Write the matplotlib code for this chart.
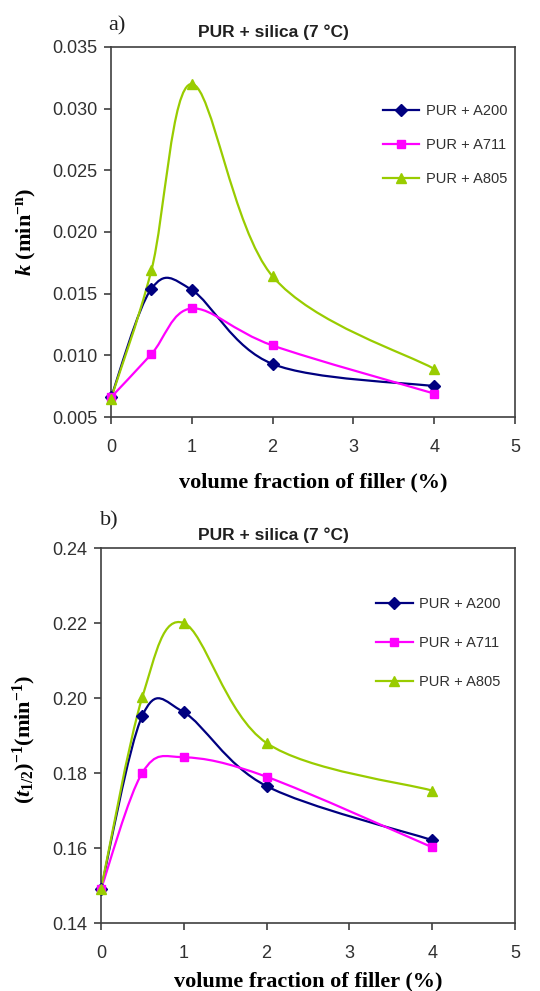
import numpy as np
import matplotlib
matplotlib.use('Agg')
import matplotlib.pyplot as plt
from matplotlib.path import Path
from matplotlib.patches import PathPatch
from matplotlib.lines import Line2D
from matplotlib.ticker import FormatStrFormatter, MultipleLocator

plt.rcParams['font.family'] = ['Liberation Sans', 'DejaVu Sans']
plt.rcParams['mathtext.fontset'] = 'custom'
plt.rcParams['mathtext.rm'] = 'Liberation Serif:bold'
plt.rcParams['mathtext.it'] = 'Liberation Serif:bold:italic'
plt.rcParams['mathtext.bf'] = 'Liberation Serif:bold'

# data
filler = [0, 0.5, 1, 2, 4]
labels = ['PUR + A200', 'PUR + A711', 'PUR + A805']

k_a200 = [0.0066, 0.0154, 0.0153, 0.0093, 0.0075]
k_a711 = [0.0066, 0.0101, 0.0138, 0.0108, 0.0069]
k_a805 = [0.0065, 0.0169, 0.0320, 0.0164, 0.0089]

t_a200 = [0.149, 0.1953, 0.1962, 0.1765, 0.1621]
t_a711 = [0.149, 0.1801, 0.1842, 0.1790, 0.1602]
t_a805 = [0.149, 0.2003, 0.2200, 0.1880, 0.1753]

colors = ['#000080', '#FF00FF', '#99CC00']
markers = ['D', 's', '^']
msizes = [6, 5.5, 7.5]


def smooth_path(x, y):
    # Excel-style smoothed line: Catmull-Rom as cubic Bezier segments
    pts = np.column_stack([x, y]).astype(float)
    n = len(pts)
    verts = [pts[0]]
    codes = [Path.MOVETO]
    for i in range(n - 1):
        p0 = pts[i - 1] if i > 0 else pts[i]
        p1 = pts[i]
        p2 = pts[i + 1]
        p3 = pts[i + 2] if i + 2 < n else pts[i + 1]
        verts += [p1 + (p2 - p0) / 6, p2 - (p3 - p1) / 6, p2]
        codes += [Path.CURVE4] * 3
    return Path(verts, codes)


def draw_panel(ax, series, ylim, ystep, yfmt, leg_xy, leg_space, xpad):
    for vals, c, m, ms in zip(series, colors, markers, msizes):
        ax.add_patch(PathPatch(smooth_path(filler, vals), fill=False,
                               edgecolor=c, lw=1.6, zorder=2))
        ax.plot(filler, vals, linestyle='none', marker=m, color=c,
                markersize=ms, zorder=3, clip_on=False)
    ax.set_xlim(0, 5)
    ax.set_ylim(*ylim)
    ax.xaxis.set_major_locator(MultipleLocator(1))
    ax.yaxis.set_major_locator(MultipleLocator(ystep))
    ax.yaxis.set_major_formatter(FormatStrFormatter(yfmt))
    ax.tick_params(direction='out', length=5, width=1.2, labelsize=13,
                   color='#404040', labelcolor='#303030')
    ax.tick_params(axis='x', pad=11)
    ax.tick_params(axis='y', pad=5)
    for s in ax.spines.values():
        s.set_color('#404040')
        s.set_linewidth(1.2)
    handles = [Line2D([], [], color=c, marker=m, markersize=ms, lw=1.6)
               for c, m, ms in zip(colors, markers, msizes)]
    leg = ax.legend(handles, labels, loc='upper left', bbox_to_anchor=leg_xy,
                    frameon=False, fontsize=10.5, labelspacing=leg_space,
                    handlelength=2.5, handletextpad=0.45, borderpad=0)
    for t in leg.get_texts():
        t.set_color('#303030')
    ax.set_xlabel('volume fraction of filler (%)', family='Liberation Serif',
                  fontweight='bold', fontsize=16, labelpad=xpad)


fig = plt.figure(figsize=(5.4, 9.91), dpi=100)

ax1 = fig.add_axes([0.2056, 0.5792, 0.748, 0.3734])
draw_panel(ax1, [k_a200, k_a711, k_a805], (0.005, 0.035), 0.005, '%.3f',
           (0.655, 0.866), 1.38, 12)
ax1.set_ylabel(r'$k\ \mathrm{(min^{-n})}$', fontsize=16)
ax1.yaxis.set_label_coords(-0.18, 0.5)

ax2 = fig.add_axes([0.187, 0.0686, 0.7667, 0.3784])
draw_panel(ax2, [t_a200, t_a711, t_a805], (0.14, 0.24), 0.02, '%.2f',
           (0.647, 0.888), 1.72, 7)
ax2.set_ylabel(r'$(t_{\mathrm{1/2}})^{\mathrm{-1}}\mathrm{(min^{-1})}$', fontsize=16)
ax2.yaxis.set_label_coords(-0.152, 0.49)

fig.text(273 / 540, 1 - 32 / 991, 'PUR + silica (7 °C)', fontsize=12.5,
         fontweight='bold', ha='center', va='center', color='#202020')
fig.text(273 / 540, 1 - 535 / 991, 'PUR + silica (7 °C)', fontsize=12.5,
         fontweight='bold', ha='center', va='center', color='#202020')
fig.text(117 / 540, 1 - 26 / 991, 'a)', family='Liberation Serif', fontsize=16,
         ha='center', va='center', color='#202020')
fig.text(109 / 540, 1 - 521 / 991, 'b)', family='Liberation Serif', fontsize=16,
         ha='center', va='center', color='#202020')

plt.savefig('out.png', dpi=100)
